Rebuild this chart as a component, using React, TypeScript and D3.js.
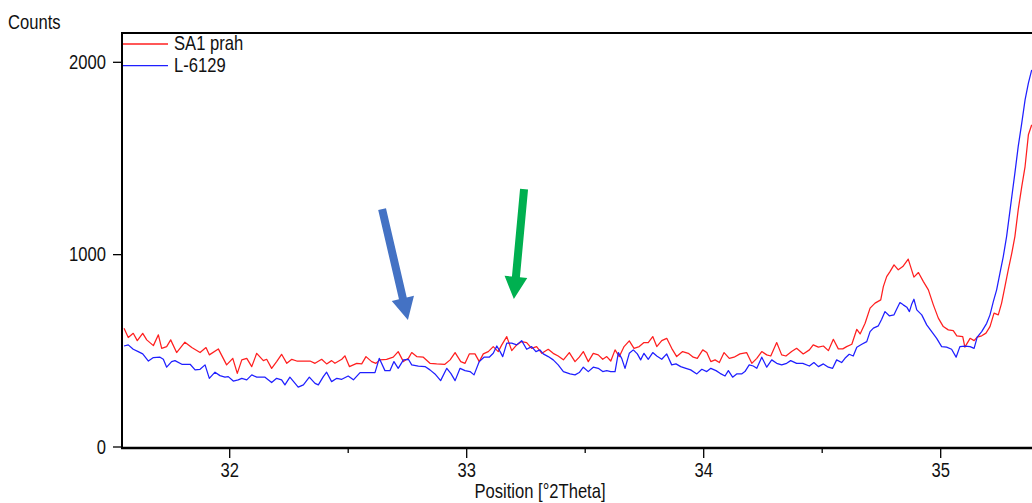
import React from "react";
import * as d3 from "d3";

// ---- data ----
const sa1Theta = [
  31.554, 31.572, 31.593, 31.61, 31.633, 31.65, 31.678, 31.699, 31.713, 31.734,
  31.751, 31.776, 31.811, 31.84, 31.875, 31.9, 31.914, 31.952, 31.987, 32.013,
  32.032, 32.051, 32.072, 32.093, 32.114, 32.142, 32.156, 32.177, 32.198, 32.219,
  32.241, 32.262, 32.283, 32.309, 32.339, 32.36, 32.388, 32.409, 32.43, 32.444,
  32.473, 32.486, 32.505, 32.536, 32.557, 32.575, 32.599, 32.617, 32.634, 32.662,
  32.69, 32.711, 32.733, 32.754, 32.768, 32.789, 32.817, 32.845, 32.873, 32.908,
  32.93, 32.951, 32.975, 32.993, 33.011, 33.035, 33.053, 33.07, 33.091, 33.112,
  33.133, 33.148, 33.169, 33.19, 33.211, 33.232, 33.253, 33.274, 33.295, 33.317,
  33.344, 33.365, 33.386, 33.408, 33.433, 33.457, 33.475, 33.492, 33.513, 33.534,
  33.555, 33.574, 33.591, 33.608, 33.626, 33.644, 33.664, 33.686, 33.706, 33.728,
  33.748, 33.766, 33.785, 33.802, 33.823, 33.844, 33.865, 33.886, 33.911, 33.935,
  33.956, 33.973, 33.996, 34.013, 34.03, 34.048, 34.066, 34.086, 34.108, 34.128,
  34.153, 34.181, 34.203, 34.224, 34.245, 34.266, 34.283, 34.308, 34.329, 34.347,
  34.371, 34.392, 34.42, 34.446, 34.462, 34.484, 34.505, 34.526, 34.547, 34.568,
  34.587, 34.603, 34.625, 34.646, 34.66, 34.681, 34.702, 34.723, 34.747, 34.758,
  34.772, 34.786, 34.803, 34.821, 34.84, 34.863, 34.873, 34.887, 34.906, 34.927,
  34.948, 34.969, 34.99, 35.011, 35.032, 35.053, 35.068, 35.093, 35.102, 35.124,
  35.141, 35.154, 35.173, 35.191, 35.208, 35.225, 35.243, 35.257, 35.271, 35.285,
  35.3, 35.313, 35.327, 35.342, 35.356, 35.37, 35.384,
];
const sa1Counts = [
  617, 569, 591, 553, 591, 557, 527, 583, 513, 522,
  557, 491, 545, 517, 491, 517, 479, 510, 427, 461,
  383, 453, 461, 418, 487, 449, 456, 409, 444, 482,
  435, 456, 447, 447, 447, 435, 456, 432, 449, 435,
  456, 474, 418, 435, 432, 470, 444, 435, 453, 456,
  467, 496, 444, 461, 491, 470, 467, 435, 432, 430,
  453, 491, 444, 435, 484, 484, 444, 484, 496, 522,
  496, 531, 574, 501, 531, 548, 543, 513, 522, 487,
  508, 487, 473, 453, 491, 444, 467, 496, 444, 487,
  479, 456, 470, 447, 505, 470, 522, 552, 513, 522,
  543, 543, 574, 522, 553, 565, 513, 470, 496, 487,
  467, 461, 505, 491, 444, 453, 439, 491, 461, 467,
  484, 491, 435, 461, 496, 479, 473, 543, 479, 473,
  496, 513, 484, 505, 531, 519, 525, 501, 560, 510,
  510, 522, 534, 612, 588, 643, 722, 748, 765, 834,
  886, 912, 947, 921, 938, 977, 938, 883, 907, 860,
  817, 739, 670, 626, 609, 605, 578, 574, 519, 565,
  553, 571, 578, 592, 626, 696, 687, 748, 834, 921,
  1008, 1094, 1233, 1354, 1458, 1623, 1675,
];

const l6129Theta = [
  31.554, 31.572, 31.593, 31.614, 31.633, 31.657, 31.678, 31.706, 31.72, 31.734,
  31.755, 31.769, 31.798, 31.833, 31.854, 31.875, 31.896, 31.914, 31.938, 31.959,
  31.98, 31.994, 32.015, 32.036, 32.051, 32.072, 32.093, 32.114, 32.149, 32.177,
  32.198, 32.219, 32.233, 32.254, 32.289, 32.311, 32.336, 32.36, 32.374, 32.395,
  32.409, 32.43, 32.452, 32.473, 32.5, 32.522, 32.55, 32.613, 32.631, 32.655,
  32.676, 32.693, 32.711, 32.733, 32.754, 32.768, 32.796, 32.824, 32.845, 32.866,
  32.89, 32.916, 32.933, 32.951, 32.972, 32.993, 33.014, 33.031, 33.053, 33.073,
  33.095, 33.112, 33.127, 33.141, 33.152, 33.169, 33.19, 33.211, 33.232, 33.253,
  33.274, 33.292, 33.309, 33.323, 33.344, 33.365, 33.386, 33.408, 33.436, 33.457,
  33.475, 33.492, 33.513, 33.534, 33.555, 33.574, 33.591, 33.608, 33.626, 33.64,
  33.654, 33.668, 33.686, 33.703, 33.72, 33.734, 33.748, 33.766, 33.785, 33.802,
  33.823, 33.844, 33.865, 33.883, 33.903, 33.925, 33.945, 33.971, 33.992, 34.013,
  34.03, 34.052, 34.069, 34.09, 34.104, 34.122, 34.139, 34.16, 34.174, 34.192,
  34.209, 34.224, 34.245, 34.266, 34.287, 34.308, 34.329, 34.35, 34.367, 34.392,
  34.418, 34.446, 34.465, 34.484, 34.505, 34.526, 34.544, 34.561, 34.582, 34.596,
  34.614, 34.631, 34.646, 34.667, 34.688, 34.702, 34.716, 34.737, 34.751, 34.765,
  34.783, 34.803, 34.814, 34.828, 34.842, 34.857, 34.868, 34.878, 34.887, 34.899,
  34.92, 34.941, 34.962, 34.983, 35.004, 35.025, 35.046, 35.065, 35.081, 35.102,
  35.124, 35.141, 35.154, 35.173, 35.194, 35.208, 35.222, 35.236, 35.25, 35.264,
  35.278, 35.3, 35.313, 35.327, 35.342, 35.356, 35.37, 35.384,
];
const l6129Counts = [
  525, 531, 508, 496, 484, 447, 465, 467, 456, 415,
  444, 449, 430, 430, 401, 404, 427, 357, 389, 371,
  363, 366, 343, 349, 357, 349, 375, 363, 363, 335,
  357, 349, 323, 363, 311, 323, 363, 331, 323, 366,
  389, 340, 357, 352, 369, 349, 387, 387, 461, 397,
  397, 444, 409, 453, 456, 427, 421, 418, 401, 380,
  345, 409, 383, 345, 409, 397, 392, 375, 444, 467,
  467, 487, 525, 496, 470, 540, 540, 531, 553, 508,
  522, 496, 505, 484, 470, 453, 427, 392, 380, 375,
  387, 415, 392, 415, 409, 392, 397, 392, 392, 491,
  461, 409, 487, 505, 484, 453, 487, 456, 491, 473,
  456, 484, 427, 432, 418, 409, 401, 380, 404, 392,
  409, 397, 383, 369, 397, 363, 380, 380, 392, 427,
  421, 409, 467, 415, 453, 435, 427, 435, 449, 435,
  435, 421, 439, 418, 432, 415, 409, 453, 439, 461,
  482, 473, 519, 534, 548, 600, 618, 630, 664, 704,
  682, 687, 716, 751, 739, 727, 704, 744, 768, 713,
  687, 635, 600, 565, 522, 519, 508, 467, 522, 525,
  522, 513, 571, 600, 643, 687, 756, 817, 904, 990,
  1094, 1302, 1424, 1562, 1684, 1805, 1892, 1961,
];

const seriesNames = ["SA1 prah", "L-6129"];
const xTicks = [32, 33, 34, 35];
const xMinorTicks = [32.5, 33.5, 34.5];
const yTicks = [0, 1000, 2000];
const yLabel = "Counts";
const xLabel = "Position [°2Theta]";

// annotation arrows in data units: [theta, counts] start -> tip
const arrowFrom = [
  [32.643, 1237],
  [33.242, 1341],
];
const arrowTo = [
  [32.752, 660],
  [33.199, 769],
];

// ---- styles / layout ----
const W = 1032;
const H = 503;
const plotLeft = 122;
const plotTop = 33;
const plotRight = 1032;
const plotBottom = 447;
const seriesColors = ["#ff1f1f", "#1f1fff"];
const arrowColors = ["#4472c4", "#00b050"];
const FONT = "'Liberation Sans', Arial, Helvetica, sans-serif";
const FS = 16.6;
const SY = 1.18;

function Label({ x, y, anchor = "start", children }: any) {
  return (
    <text
      transform={`translate(${x},${y}) scale(1,${SY})`}
      textAnchor={anchor}
      fontFamily={FONT}
      fontSize={FS}
      fill="#111"
    >
      {children}
    </text>
  );
}

function arrowPath(p0: number[], p1: number[], shaftHalf: number, headLen: number, headHalf: number) {
  const dx = p1[0] - p0[0];
  const dy = p1[1] - p0[1];
  const len = Math.hypot(dx, dy);
  const ux = dx / len, uy = dy / len;
  const nx = -uy, ny = ux;
  const bx = p1[0] - ux * headLen, by = p1[1] - uy * headLen;
  const pts = [
    [p0[0] + nx * shaftHalf, p0[1] + ny * shaftHalf],
    [bx + nx * shaftHalf, by + ny * shaftHalf],
    [bx + nx * headHalf, by + ny * headHalf],
    [p1[0], p1[1]],
    [bx - nx * headHalf, by - ny * headHalf],
    [bx - nx * shaftHalf, by - ny * shaftHalf],
    [p0[0] - nx * shaftHalf, p0[1] - ny * shaftHalf],
  ];
  return "M" + pts.map((p) => p[0].toFixed(2) + "," + p[1].toFixed(2)).join("L") + "Z";
}

export default function App() {
  const x = d3.scaleLinear().domain([32, 35]).range([229.7, 940.7]);
  const y = d3.scaleLinear().domain([0, 2000]).range([447, 62.3]);
  const line = d3
    .line<[number, number]>()
    .x((d) => x(d[0]))
    .y((d) => y(d[1]));

  const zip = (a: number[], b: number[]) =>
    a.slice(0, Math.min(a.length, b.length)).map((t, i) => [t, b[i]] as [number, number]);
  const series = [zip(sa1Theta, sa1Counts), zip(l6129Theta, l6129Counts)];

  return (
    <svg
      width={W}
      height={H}
      viewBox={`0 0 ${W} ${H}`}
      style={{ position: "absolute", left: 0, top: 0, background: "#fff" }}
    >
      <rect x={0} y={0} width={W} height={H} fill="#fff" />
      <defs>
        <clipPath id="plotClip">
          <rect x={plotLeft + 1} y={plotTop + 1} width={plotRight - plotLeft} height={plotBottom - plotTop} />
        </clipPath>
      </defs>

      {/* data lines */}
      <g clipPath="url(#plotClip)">
        {series.map((s, i) => (
          <path key={i} d={line(s) || ""} fill="none" stroke={seriesColors[i]} strokeWidth={1.25} strokeLinejoin="round" />
        ))}
      </g>

      {/* frame */}
      <line x1={plotLeft} x2={plotRight} y1={plotTop} y2={plotTop} stroke="#000" strokeWidth={2} />
      <line x1={plotLeft} x2={plotLeft} y1={plotTop - 1} y2={plotBottom + 2} stroke="#000" strokeWidth={2} />
      <line x1={plotLeft - 1} x2={plotRight} y1={plotBottom + 1} y2={plotBottom + 1} stroke="#000" strokeWidth={2.5} />

      {/* y ticks */}
      {yTicks.map((t) => (
        <g key={t}>
          <line x1={113} x2={plotLeft} y1={y(t)} y2={y(t)} stroke="#000" strokeWidth={1.3} />
          <Label x={106} y={y(t) + 6.5} anchor="end">
            {t}
          </Label>
        </g>
      ))}

      {/* x ticks */}
      {xTicks.map((t) => (
        <g key={t}>
          <line x1={x(t)} x2={x(t)} y1={plotBottom + 2} y2={458} stroke="#000" strokeWidth={1.3} />
          <Label x={x(t)} y={477.3} anchor="middle">
            {t}
          </Label>
        </g>
      ))}
      {xMinorTicks.map((t) => (
        <line key={t} x1={x(t)} x2={x(t)} y1={plotBottom + 2} y2={453} stroke="#000" strokeWidth={1.3} />
      ))}

      <Label x={8} y={29}>{yLabel}</Label>
      <Label x={540} y={498} anchor="middle">{xLabel}</Label>

      {/* legend */}
      {seriesNames.map((n, i) => (
        <g key={n}>
          <line x1={plotLeft + 1} x2={168} y1={44 + i * 21.7} y2={44 + i * 21.7} stroke={seriesColors[i]} strokeWidth={1.3} />
          <Label x={174} y={50 + i * 21.7}>{n}</Label>
        </g>
      ))}

      {/* annotation arrows */}
      {arrowFrom.map((f, i) => (
        <path
          key={i}
          d={arrowPath([x(f[0]), y(f[1])], [x(arrowTo[i][0]), y(arrowTo[i][1])], 4, 22.3, 11.4)}
          fill={arrowColors[i]}
        />
      ))}
    </svg>
  );
}
